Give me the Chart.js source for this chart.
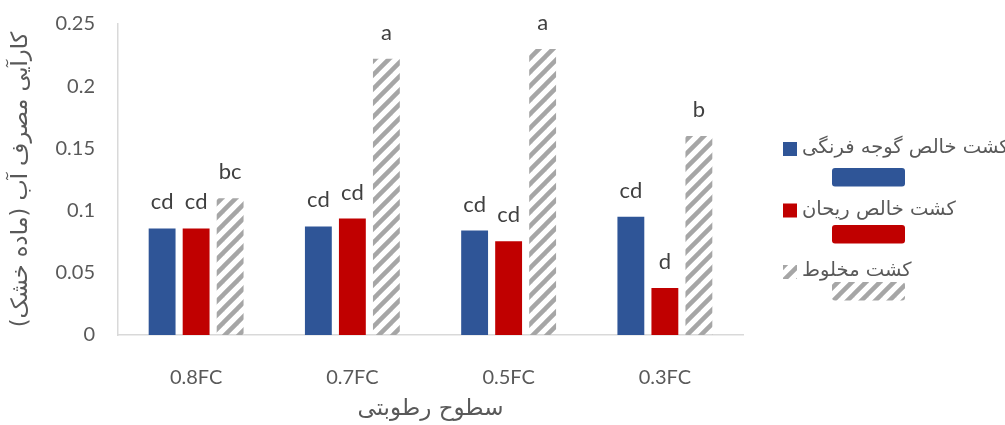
<!DOCTYPE html>
<html>
<head>
<meta charset="utf-8">
<script src="https://cdn.jsdelivr.net/npm/chart.js@4.4.1/dist/chart.umd.min.js"></script>
<style>
  html, body { margin: 0; padding: 0; background: #fff; }
  #wrap { width: 1005px; height: 425px; position: relative; }
</style>
</head>
<body>
<div id="wrap"><canvas id="chart" width="1005" height="425"></canvas></div>
<script>
// ====== DATA ======
const levels = ["0.8FC", "0.7FC", "0.5FC", "0.3FC"];
const seriesNames = ["کشت خالص گوجه فرنگی", "کشت خالص ریحان", "کشت مخلوط"];
const tomato = [0.0857, 0.0873, 0.0840, 0.0950];
const basil = [0.0857, 0.0937, 0.0753, 0.0377];
const mixed = [0.110, 0.222, 0.230, 0.160];
const tomatoLetters = ["cd", "cd", "cd", "cd"];
const basilLetters = ["cd", "cd", "cd", "d"];
const mixedLetters = ["bc", "a", "a", "b"];
const yTicks = [0, 0.05, 0.1, 0.15, 0.2, 0.25];

const yTitle = "کارآیی مصرف آب (ماده خشک)";
const xTitle = "سطوح رطوبتی";

const FONT = "Lato, 'DejaVu Sans', sans-serif";
const ARFONT = "'DejaVu Sans', sans-serif";
const TXT = "#595959";

// hatch pattern (wide upward diagonal)
function makeHatch() {
  const c = document.createElement('canvas');
  c.width = 14; c.height = 14;
  const g = c.getContext('2d');
  g.strokeStyle = '#a6a6a6';
  g.lineWidth = 4.5;
  g.lineCap = 'square';
  [[-7, 7, 7, -7], [0, 14, 14, 0], [7, 21, 21, 7]].forEach(l => {
    g.beginPath(); g.moveTo(l[0], l[1]); g.lineTo(l[2], l[3]); g.stroke();
  });
  return g.createPattern(c, 'repeat');
}
const hatch = makeHatch();

// letters above bars
const letterPlugin = {
  id: 'letters',
  afterDatasetsDraw(chart) {
    const ctx = chart.ctx;
    ctx.save();
    ctx.font = "22px " + FONT;
    ctx.fillStyle = "#404040";
    ctx.textAlign = 'center';
    ctx.textBaseline = 'middle';
    chart.data.datasets.forEach((ds, i) => {
      chart.getDatasetMeta(i).data.forEach((bar, j) => {
        ctx.fillText(ds.letters[j], bar.x, bar.y - 26);
      });
    });
    ctx.restore();
  }
};

// side legend: small marker + name, with a swatch bar below
const sideLegend = {
  id: 'sideLegend',
  afterDraw(chart) {
    const ctx = chart.ctx;
    ctx.save();
    chart.data.datasets.forEach((ds, i) => {
      const top = 142 + i * 61.5;
      ctx.fillStyle = ds.backgroundColor;
      ctx.fillRect(783, top, 14, 14);
      ctx.font = "19.5px " + ARFONT;
      ctx.fillStyle = TXT;
      ctx.textAlign = 'left';
      ctx.textBaseline = 'middle';
      ctx.fillText(ds.label, 802, top + 6);
      const rt = 168 + i * 57;
      ctx.fillStyle = ds.backgroundColor;
      ctx.beginPath();
      ctx.roundRect(832, rt, 73, 18.5, 3);
      ctx.fill();
    });
    ctx.restore();
  }
};

const ctx = document.getElementById('chart').getContext('2d');
new Chart(ctx, {
  type: 'bar',
  data: {
    labels: levels,
    datasets: [
      { label: seriesNames[0], data: tomato, letters: tomatoLetters, backgroundColor: '#2f5597' },
      { label: seriesNames[1], data: basil, letters: basilLetters, backgroundColor: '#c00000' },
      { label: seriesNames[2], data: mixed, letters: mixedLetters, backgroundColor: hatch }
    ]
  },
  options: {
    responsive: false,
    animation: false,
    devicePixelRatio: 1,
    layout: { padding: { left: 0, right: 262, top: 24, bottom: 0 } },
    datasets: { bar: { categoryPercentage: 0.653, barPercentage: 0.79 } },
    plugins: { legend: { display: false }, tooltip: { enabled: false } },
    scales: {
      x: {
        grid: { display: false, drawTicks: false },
        border: { display: true, color: '#d9d9d9', width: 1.5 },
        ticks: { color: TXT, font: { family: FONT, size: 20 }, padding: 31 },
        title: { display: true, text: xTitle, color: TXT, font: { family: ARFONT, size: 23 }, padding: { top: 4, bottom: 2 } },
        afterFit(scale) { scale.height = 90; }
      },
      y: {
        min: 0, max: 0.25,
        afterBuildTicks(scale) { scale.ticks = yTicks.map(v => ({ value: v })); },
        grid: { display: false, drawTicks: false },
        border: { display: true, color: '#d9d9d9', width: 1.5 },
        ticks: {
          color: TXT, font: { family: FONT, size: 20 }, padding: 23,
          callback: v => String(+v.toFixed(2))
        },
        title: { display: true, text: yTitle, color: TXT, font: { family: ARFONT, size: 22.5 }, padding: { top: 8, bottom: 4 } },
        afterFit(scale) {
          scale.width = 118;
          scale.paddingTop = 12;
          scale.paddingBottom = 12;
        }
      }
    }
  },
  plugins: [letterPlugin, sideLegend]
});
</script>
</body>
</html>
